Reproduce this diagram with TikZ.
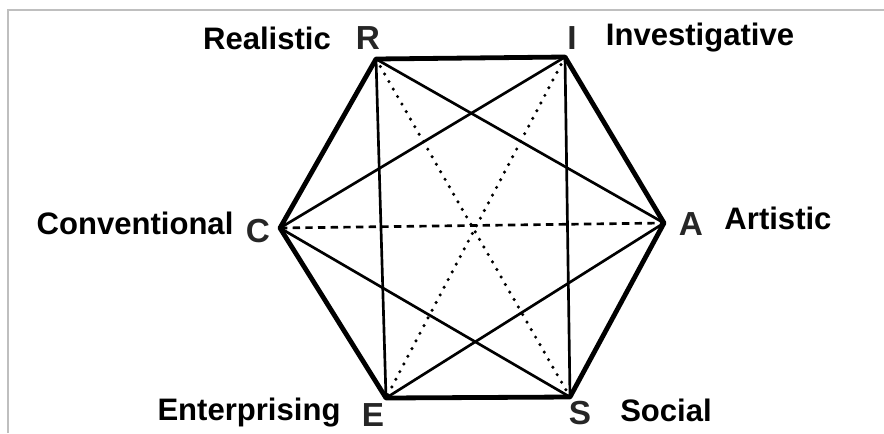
\documentclass[tikz,border=0pt]{standalone}
\usepackage{fontspec}
\setmainfont{Liberation Sans}
\usetikzlibrary{positioning}

\begin{document}
\begin{tikzpicture}[x=0.75pt, y=-0.75pt,
    side/.style={line width=3.6pt, line join=round, line cap=round},
    link/.style={line width=2pt},
    dotlink/.style={line width=2.6pt, line cap=round, dash pattern=on 0pt off 6.5pt},
    dashlink/.style={line width=2pt, dash pattern=on 5.5pt off 4pt},
    typename/.style={font=\bfseries\fontsize{23.3}{25}\selectfont, inner sep=0pt},
    letter/.style={font=\bfseries\fontsize{25}{27}\selectfont, text=black!85, inner sep=0pt}
  ]
    \useasboundingbox (0,0) rectangle (884,433);
    \draw[black!25, line width=1.5pt] (8,433) |- (884,10);

    % vertices
    \coordinate (R) at (376,59);
    \coordinate (I) at (565,57);
    \coordinate (A) at (664,223);
    \coordinate (S) at (570,397);
    \coordinate (E) at (386,398);
    \coordinate (C) at (280,228);

    % inner connections
    \draw[link] (R) -- (E);
    \draw[link] (I) -- (S);
    \draw[link] (R) -- (A);
    \draw[link] (I) -- (C);
    \draw[link] (C) -- (S);
    \draw[link] (E) -- (A);
    \draw[dotlink] (R) -- (S);
    \draw[dotlink] (I) -- (E);
    \draw[dashlink] (C) -- (A);

    % hexagon
    \draw[side] (R) -- (I) -- (A) -- (S) -- (E) -- (C) -- cycle;

    % letters
    \node[letter] (lR) at (368,38) {R};
    \node[letter] (lI) at (572,38) {I};
    \node[letter] (lA) at (691,224) {A};
    \node[letter] (lS) at (580,413) {S};
    \node[letter] (lE) at (373,415) {E};
    \node[letter] (lC) at (258,231) {C};

    % type names
    \node[typename] (real) at (267,38) {Realistic};
    \node[typename] (inv) at (700,38) {Investigative};
    \node[typename] (art) at (778,218) {Artistic};
    \node[typename] (soc) at (666,410) {Social};
    \node[typename] (ent) at (249,413) {Enterprising};
    \node[typename] (conv) at (135,223) {Conventional};
  \end{tikzpicture}
\end{document}
